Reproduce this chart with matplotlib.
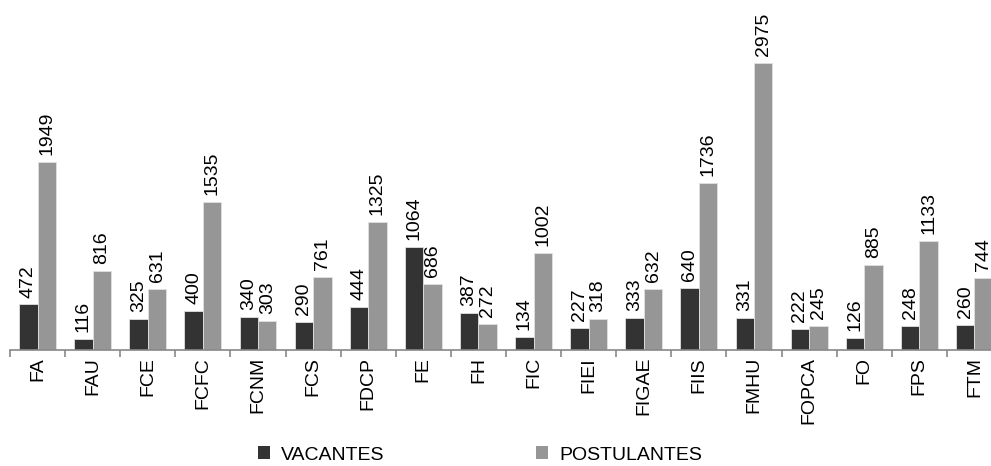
import matplotlib
matplotlib.use("Agg")
import matplotlib.pyplot as plt
import numpy as np
from matplotlib.patches import Patch

# --- datos ---
facultades = ["FA", "FAU", "FCE", "FCFC", "FCNM", "FCS", "FDCP", "FE", "FH", "FIC",
              "FIEI", "FIGAE", "FIIS", "FMHU", "FOPCA", "FO", "FPS", "FTM"]
vacantes = [472, 116, 325, 400, 340, 290, 444, 1064, 387, 134,
            227, 333, 640, 331, 222, 126, 248, 260]
postulantes = [1949, 816, 631, 1535, 303, 761, 1325, 686, 272, 1002,
               318, 632, 1736, 2975, 245, 885, 1133, 744]

plt.rcParams['font.family'] = ['Liberation Sans', 'DejaVu Sans']
FS = 14
C_VAC = "#333333"
C_POS = "#969696"

fig = plt.figure(figsize=(9.91, 4.66), dpi=100)
ax = fig.add_axes([10 / 991, 116 / 466, 992 / 991, 337.7 / 466])

x = np.arange(len(facultades))
w = 0.335
b1 = ax.bar(x - w / 2, vacantes, w, color=C_VAC, edgecolor="#e0e0e0", linewidth=0.6)
b2 = ax.bar(x + w / 2, postulantes, w, color=C_POS, edgecolor="#e0e0e0", linewidth=0.6)

for bars, vals in ((b1, vacantes), (b2, postulantes)):
    for r, v in zip(bars, vals):
        ax.annotate(str(v), (r.get_x() + r.get_width() / 2, r.get_height()),
                    xytext=(0, 5), textcoords="offset points",
                    ha="center", va="bottom", rotation=90, fontsize=FS)

ax.set_xlim(-0.5, len(facultades) - 0.5)
ax.set_ylim(0, 3500)
ax.set_yticks([])
for s in ("top", "right", "left"):
    ax.spines[s].set_visible(False)
ax.spines["bottom"].set_color("#888888")
ax.spines["bottom"].set_linewidth(1.2)

# marcas entre grupos, etiquetas en el centro
ax.set_xticks(np.arange(len(facultades) + 1) - 0.5)
ax.set_xticklabels([])
ax.tick_params(axis="x", which="major", direction="out", length=5, color="#888888", width=1.2)
ax.set_xticks(x, minor=True)
ax.set_xticklabels(facultades, minor=True, rotation=90, fontsize=FS)
ax.tick_params(axis="x", which="minor", length=0, pad=5)

handles = [Patch(facecolor=C_VAC, label="VACANTES"),
           Patch(facecolor=C_POS, label="POSTULANTES")]
fig.legend(handles=handles, loc="center", bbox_to_anchor=(480 / 991, 1 - 455 / 466),
           ncol=2, frameon=False, fontsize=FS, handlelength=0.62, handleheight=0.62,
           handletextpad=0.55, columnspacing=7.8)

fig.savefig("out.png", dpi=100)
